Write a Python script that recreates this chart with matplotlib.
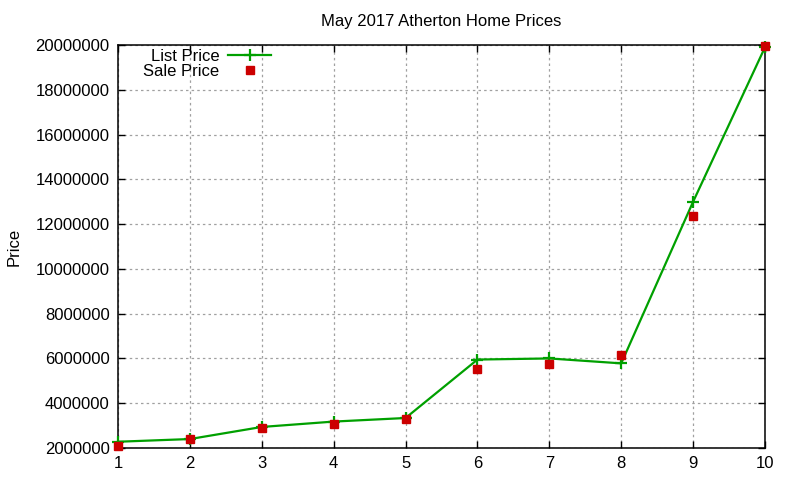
import numpy as np
import matplotlib.pyplot as plt
from matplotlib.ticker import MultipleLocator, FixedLocator

plt.rcParams['font.family'] = ['Liberation Sans', 'DejaVu Sans']

# data
homes = [1, 2, 3, 4, 5, 6, 7, 8, 9, 10]
list_price = [2280000, 2400000, 2940000, 3180000, 3340000, 5950000, 6000000, 5780000, 13000000, 19900000]
sale_price = [2090000, 2390000, 2900000, 3090000, 3300000, 5540000, 5770000, 6150000, 12360000, 19950000]

green = '#00a000'
red = '#cc0000'

fig = plt.figure(figsize=(8, 4.8), dpi=100)
ax = fig.add_axes([118 / 800, 1 - 448 / 480, (765 - 118) / 800, (448 - 45) / 480])

ax.plot(homes, list_price, color=green, lw=1.6, marker='+', ms=9, mew=1.6,
        label='List Price', clip_on=False, zorder=3)
ax.plot(homes, sale_price, color=red, ls='none', marker='s', ms=6,
        label='Sale Price', clip_on=False, zorder=4)

ax.set_xlim(1, 10)
ax.set_ylim(2000000, 20000000)
ax.xaxis.set_major_locator(MultipleLocator(1))
ax.yaxis.set_major_locator(MultipleLocator(2000000))
ax.ticklabel_format(style='plain', axis='y', useOffset=False)

ax.grid(True, color='#a0a0a0', ls=(0, (2, 2.5)), lw=0.9)
ax.tick_params(direction='in', length=5, width=1, top=True, right=True,
               labelsize=12, pad=6, colors='black')
for s in ax.spines.values():
    s.set_linewidth(1.1)

ax.set_title('May 2017 Atherton Home Prices', fontsize=12, pad=14)
ax.set_ylabel('Price', fontsize=12, labelpad=10)

leg = ax.legend(loc='upper left', bbox_to_anchor=(0.029, 1.006), frameon=False,
                markerfirst=False, fontsize=12, handlelength=2.6,
                labelspacing=0.0, borderaxespad=0.0, handletextpad=0.5)

fig.savefig('out.png', dpi=100)
